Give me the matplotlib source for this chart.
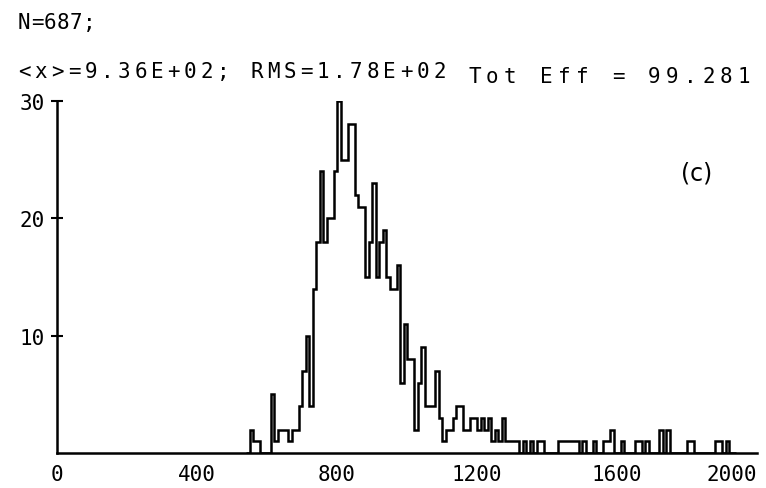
"""
Histogram of hit positions, style of an old plotter printout.
"""

import numpy as np
import matplotlib
matplotlib.use("Agg")
import matplotlib.pyplot as plt

# bin left edges, width 10
bin_start = 540
bin_width = 10
counts = [
    0, 2, 1, 1, 0, 0, 0, 5, 1, 2,          # 540-630
    2, 2, 1, 2, 2, 4, 7, 10, 4, 14,        # 640-730
    18, 24, 18, 20, 20, 24, 30, 25, 25, 28,  # 740-830
    28, 22, 21, 21, 15, 18, 23, 15, 18, 19,  # 840-930
    15, 14, 14, 16, 6, 11, 8, 8, 2, 6,     # 940-1030
    9, 4, 4, 4, 7, 3, 1, 2, 2, 3,          # 1040-1130
    4, 4, 2, 2, 3, 3, 2, 3, 2, 3,          # 1140-1230
    1, 2, 1, 3, 1, 1, 1, 1, 0, 1,          # 1240-1330
    0, 1, 0, 1, 1, 0, 0, 0, 0, 1,          # 1340-1430
    1, 1, 1, 1, 1, 0, 1, 0, 0, 1,          # 1440-1530
    0, 0, 1, 1, 2, 0, 0, 1, 0, 0,          # 1540-1630
    0, 1, 1, 0, 1, 0, 0, 0, 2, 0,          # 1640-1730
    2, 0, 0, 0, 0, 0, 1, 1, 0, 0,          # 1740-1830
    0, 0, 0, 0, 1, 1, 0, 1, 0, 0,          # 1840-1930
]

n_entries = 687
mean_x = "9.36E+02"
rms_x = "1.78E+02"
tot_eff = "99.281"
panel = "(c)"

x_ticks = [0, 400, 800, 1200, 1600, 2000]
y_ticks = [10, 20, 30]

edges = bin_start + bin_width * np.arange(len(counts) + 1)

W, H = 766, 489
mono = "DejaVu Sans Mono"


def plotter_text(fig, x0, y, s, pitch, size=15):
    # old plotter fonts use a wide fixed pitch, so put each char by hand
    for i, ch in enumerate(s):
        if ch == " ":
            continue
        fig.text((x0 + i * pitch) / W, 1 - y / H, ch, fontfamily=mono,
                 fontsize=size, ha="left", va="center")


fig = plt.figure(figsize=(W / 100, H / 100), dpi=100)
ax = fig.add_axes([57 / W, 35 / H, 700 / W, 352 / H])

ax.stairs(counts, edges, color="black", linewidth=1.8)

ax.set_xlim(0, 2000)
ax.set_ylim(0, 30)
ax.set_xticks(x_ticks)
ax.set_yticks(y_ticks)
ax.set_xticklabels([str(t) for t in x_ticks], fontfamily=mono, fontsize=15)
ax.set_yticklabels([str(t) for t in y_ticks], fontfamily=mono, fontsize=15)
ax.get_xticklabels()[-1].set_horizontalalignment("right")
ax.tick_params(axis="x", length=0, pad=8)
ax.tick_params(axis="y", direction="inout", length=9, width=1.5, pad=4)

for side in ["top", "right"]:
    ax.spines[side].set_visible(False)
for side in ["left", "bottom"]:
    ax.spines[side].set_linewidth(1.8)

plotter_text(fig, 18, 23, f"N={n_entries};", 13)
plotter_text(fig, 18, 72, f"<x>={mean_x}; RMS={rms_x}", 16.6)
plotter_text(fig, 468, 77, f"Tot Eff = {tot_eff}", 18)

ax.text((697 - 57) / 700, (454 - 174) / 352, panel, transform=ax.transAxes,
        fontsize=17, va="center", ha="center")

fig.savefig("out.png", dpi=100)
